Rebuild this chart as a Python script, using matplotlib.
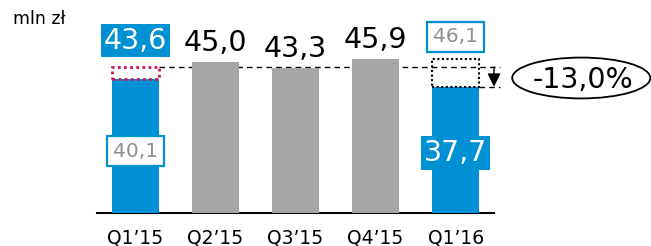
import matplotlib
matplotlib.use("Agg")
import matplotlib.pyplot as plt
from matplotlib.patches import Rectangle, Ellipse

# ---- data ----
quarters = ["Q1\u201915", "Q2\u201915", "Q3\u201915", "Q4\u201915", "Q1\u201916"]
bar_values = [40.1, 45.0, 43.3, 45.9, 37.7]
headline_values = [43.6, 45.0, 43.3, 45.9, 37.7]
outline_values = [43.6, None, None, None, 46.1]
secondary_labels = ["40,1", None, None, None, "46,1"]
change_label = "-13,0%"
unit_label = "mln z\u0142"

BLUE = "#0091D5"
GRAY = "#A6A6A6"
LABEL_GRAY = "#8F8F8F"

fig = plt.figure(figsize=(6.51, 2.46), dpi=100)
ax = fig.add_axes([97/651, 33/246, 397/651, 201/246])
ax.set_xlim(-0.48, 4.48)
ax.set_ylim(0, 60)
for s in ["top", "right", "left"]:
    ax.spines[s].set_visible(False)
ax.spines["bottom"].set_linewidth(1.5)
ax.spines["bottom"].set_color("black")
ax.set_yticks([])
ax.set_xticks(range(len(quarters)))
ax.set_xticklabels(quarters, fontsize=13.5)
ax.tick_params(axis="x", length=0, pad=11)

blue_idx = [0, len(quarters) - 1]
colors = [BLUE if i in blue_idx else GRAY for i in range(len(quarters))]
w = 0.59
x = list(range(len(quarters)))
ax.bar(x, bar_values, width=w, color=colors, zorder=3)

# reference dashed line at Q1'15 headline level
ref = headline_values[0]
last = x[-1]
arrow_x = 4.48
ax.plot([x[0] + w/2, arrow_x + 0.08], [ref, ref], color="black", lw=1,
        ls=(0, (4, 3)), zorder=1, clip_on=False)
ax.plot([last + w/2, arrow_x + 0.08], [bar_values[-1], bar_values[-1]], color="black",
        lw=1, ls=(0, (4, 3)), zorder=1, clip_on=False)
ax.annotate("", xy=(arrow_x, bar_values[-1]), xytext=(arrow_x, ref),
            arrowprops=dict(arrowstyle="-|>", color="black", lw=1, mutation_scale=20,
                            shrinkA=0, shrinkB=0), annotation_clip=False)

# outline (dotted) boxes
ax.add_patch(Rectangle((x[0] - w/2, bar_values[0]), w, outline_values[0] - bar_values[0],
                       fill=False, ec="#C8174D", lw=2, ls=(0, (1, 1.2)), zorder=4))
ax.add_patch(Rectangle((last - w/2, bar_values[-1]), w, outline_values[-1] - bar_values[-1],
                       fill=False, ec="black", lw=1.5, ls=(0, (1, 1.2)), zorder=4))

# headline labels
for i, v in enumerate(headline_values):
    txt = f"{v:.1f}".replace(".", ",")
    if i == 0:
        ax.text(i, v + 5.5, txt, ha="center", va="baseline", fontsize=20.5, color="white",
                bbox=dict(boxstyle="square,pad=0.1", fc=BLUE, ec="none"), zorder=5)
    elif i == last:
        ax.text(i, 15.5, txt, ha="center", va="baseline", fontsize=20.5, color="white",
                bbox=dict(boxstyle="square,pad=0.1", fc=BLUE, ec="none"), zorder=5)
    else:
        ax.text(i, v + 3.3, txt, ha="center", va="baseline", fontsize=20.5, color="black", zorder=5)

# secondary boxed labels
ax.text(x[0], 16.8, secondary_labels[0], ha="center", va="baseline", fontsize=14.5,
        color=LABEL_GRAY, bbox=dict(boxstyle="square,pad=0.28", fc="white", ec=BLUE, lw=1.6), zorder=6)
ax.text(last, outline_values[-1] + 4.9, secondary_labels[-1], ha="center", va="baseline",
        fontsize=14.5, color=LABEL_GRAY,
        bbox=dict(boxstyle="square,pad=0.28", fc="white", ec=BLUE, lw=1.6), zorder=6)

# change ellipse
ax.add_patch(Ellipse((5.57, 40.3), 1.725, 12.2, fill=False, ec="black", lw=1.3, clip_on=False))
ax.text(5.59, 37.4, change_label, ha="center", va="baseline", fontsize=20.5, color="black")

fig.text(13/651, (246 - 24)/246, unit_label, fontsize=12.5, va="baseline", ha="left")

fig.savefig("out.png", dpi=100)
